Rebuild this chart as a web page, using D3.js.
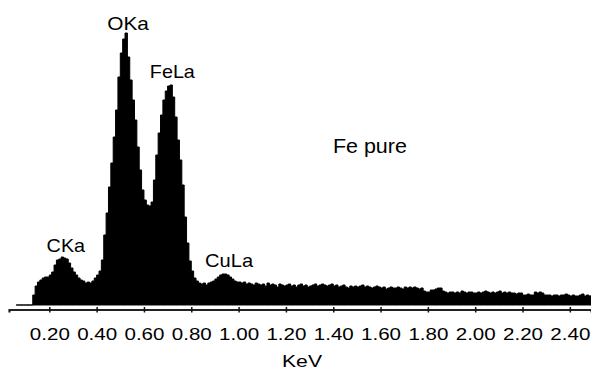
<!DOCTYPE html>
<html>
<head>
<meta charset="utf-8">
<script src="https://cdn.jsdelivr.net/npm/d3@7"></script>
<style>
  body { margin: 0; background: #fff; }
  svg { display: block; }
  text { font-family: "Liberation Sans", Arial, sans-serif; fill: #000; }
</style>
</head>
<body>
<div id="chart"></div>
<script>
// EDS spectrum, 10 eV channels starting at 0.06 keV
const channelStart = 0.06;
const channelWidth = 0.01;
const counts = [
  0, 0, 0, 0,
  0, 0, 0, 10, 19, 23, 25, 27, 28, 28,
  30, 33, 40, 45, 46, 48, 47, 46, 42, 37,
  33, 30, 27, 25, 24, 22, 23, 22, 24, 27,
  30, 34, 45, 70, 92, 118, 142, 168, 195, 228,
  252, 266, 272, 248, 225, 205, 185, 158, 135, 115,
  105, 100, 99, 103, 125, 150, 172, 190, 205, 214,
  219, 220, 208, 188, 165, 145, 120, 88, 62, 44,
  34, 27, 24, 22, 21, 22, 20, 22, 23, 24,
  26, 28, 30, 31, 31, 30, 28, 26, 24, 23,
  23, 22, 23, 21, 22, 21, 20, 22, 21, 20,
  21, 19, 22, 20, 21, 20, 18, 21, 20, 19,
  20, 21, 19, 20, 18, 20, 21, 19, 20, 18,
  19, 20, 21, 19, 20, 21, 20, 19, 20, 21,
  19, 20, 18, 19, 20, 18, 17, 19, 18, 19,
  18, 19, 20, 18, 19, 18, 17, 18, 19, 18,
  17, 18, 16, 17, 18, 17, 17, 18, 17, 16,
  18, 17, 18, 17, 18, 17, 16, 17, 14, 13,
  13, 15, 15, 16, 17, 17, 14, 13, 12, 13,
  13, 12, 13, 12, 14, 13, 12, 13, 13, 12,
  12, 13, 12, 13, 14, 13, 12, 13, 12, 13,
  14, 12, 13, 12, 13, 12, 12, 11, 12, 12,
  10, 10, 11, 10, 10, 13, 12, 13, 12, 10,
  10, 10, 9, 10, 10, 9, 10, 10, 11, 10,
  9, 10, 9, 9, 10, 11, 9, 10, 9, 10
];

const tickValues = [0.2, 0.4, 0.6, 0.8, 1.0, 1.2, 1.4, 1.6, 1.8, 2.0, 2.2, 2.4];
const tickLabels = ["0.20", "0.40", "0.60", "0.80", "1.00", "1.20", "1.40", "1.60", "1.80", "2.00", "2.20", "2.40"];

const peakNames = ["CKa", "OKa", "FeLa", "CuLa"];
const peakKeV = [0.27, 0.533, 0.72, 0.96];
const peakLabelCount = [53, 275, 227, 38];

const sampleName = "Fe pure";
const axisTitle = "KeV";

const width = 591;
const height = 372;

const x = d3.scaleLinear().domain([0.0296, 2.4894]).range([9, 591]);
const y = d3.scaleLinear().domain([0, 300]).range([305, 5]);

const data = counts.map((c, i) => ({ e: channelStart + i * channelWidth, c: c }));
data.push({ e: channelStart + counts.length * channelWidth, c: counts[counts.length - 1] });

const svg = d3.select("#chart")
  .append("svg")
  .attr("width", width)
  .attr("height", height);

const area = d3.area()
  .x((d) => x(d.e))
  .y0(y(0))
  .y1((d) => y(d.c))
  .curve(d3.curveStepAfter);

svg.append("path")
  .datum(data)
  .attr("d", area)
  .attr("fill", "#000")
  .attr("stroke", "#000")
  .attr("stroke-width", 1);

// x axis
const axis = svg.append("g")
  .attr("transform", "translate(0,309.5)")
  .call(d3.axisBottom(x)
    .tickValues(tickValues)
    .tickFormat((d, i) => tickLabels[i])
    .tickSizeOuter(0)
    .tickSize(3));

axis.select(".domain")
  .attr("stroke", "#222")
  .attr("stroke-width", 2.2);

axis.selectAll(".tick line")
  .attr("y1", -2.5)
  .attr("y2", 3)
  .attr("stroke", "#111")
  .attr("stroke-width", 1.5);

axis.selectAll(".tick text")
  .attr("y", 30.5)
  .attr("dy", 0)
  .attr("font-family", null)
  .attr("font-size", null)
  .style("font-size", "16.5px")
  .attr("textLength", 40)
  .attr("lengthAdjust", "spacingAndGlyphs")
  .attr("fill", "#000");

svg.append("text")
  .attr("x", 302)
  .attr("y", 367)
  .attr("text-anchor", "middle")
  .style("font-size", "16.5px")
  .attr("textLength", 40)
  .attr("lengthAdjust", "spacingAndGlyphs")
  .text(axisTitle);

// peak labels
const labelWidths = { CKa: 38.5, OKa: 41.7, FeLa: 45, CuLa: 48 };
svg.selectAll(".peak")
  .data(peakNames)
  .enter()
  .append("text")
  .attr("class", "peak")
  .attr("x", (d, i) => x(peakKeV[i]))
  .attr("y", (d, i) => y(peakLabelCount[i]))
  .attr("text-anchor", "middle")
  .style("font-size", "18.5px")
  .attr("textLength", (d) => labelWidths[d])
  .attr("lengthAdjust", "spacingAndGlyphs")
  .text((d) => d);

svg.append("text")
  .attr("x", x(1.555))
  .attr("y", y(152.5))
  .attr("text-anchor", "middle")
  .style("font-size", "20px")
  .attr("textLength", 74)
  .attr("lengthAdjust", "spacingAndGlyphs")
  .text(sampleName);
</script>
</body>
</html>
